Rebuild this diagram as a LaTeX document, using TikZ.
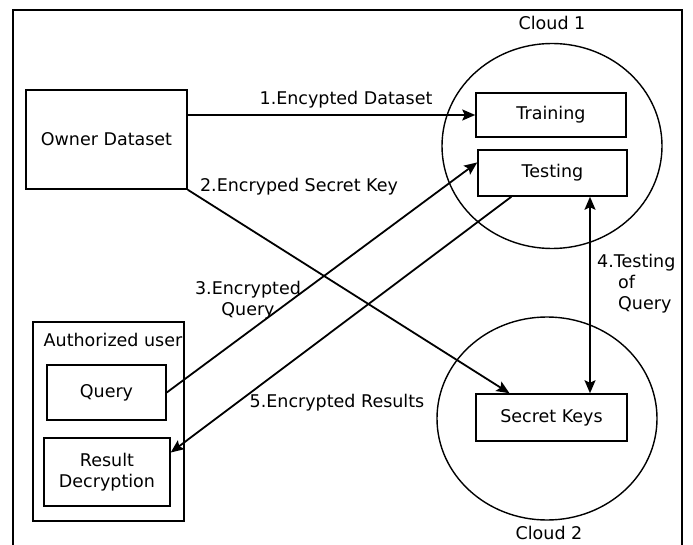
\documentclass[tikz,border=0pt]{standalone}
\usepackage{fontspec}
\setmainfont{DejaVu Sans}
\usetikzlibrary{arrows.meta,shapes.geometric,calc}

\tikzset{
  box/.style={draw, line width=1.5pt, rectangle, inner sep=0pt, align=center},
  cloudshape/.style={draw, line width=1.4pt, ellipse, inner sep=0pt},
  flow/.style={line width=1.8pt, -{Stealth[length=13pt,width=11pt,inset=2.5pt]}},
  bothflow/.style={line width=1.8pt, {Stealth[length=13pt,width=11pt,inset=2.5pt]}-{Stealth[length=13pt,width=11pt,inset=2.5pt]}},
  lbl/.style={inner sep=0pt, align=center},
}

\begin{document}
\begin{tikzpicture}[x=1pt, y=-1pt, font=\fontsize{17.5}{21}\selectfont]
  \useasboundingbox (0,0) rectangle (693,545);

  % outer frame (open at the bottom)
  \draw[line width=2pt] (13,545) -- (13,10) -- (682,10) -- (682,545);

  % clouds
  \node[cloudshape, minimum width=220pt, minimum height=205pt] (cloud1) at (552,146) {};
  \node[cloudshape, minimum width=220pt, minimum height=203pt] (cloud2) at (547,418.5) {};
  \node[lbl] (c1lbl) at (552,23) {Cloud 1};
  \node[lbl] (c2lbl) at (549,533) {Cloud 2};

  % boxes
  \node[box, minimum width=161pt, minimum height=99pt] (owner) at (106.5,139.5) {Owner Dataset};
  \node[box, minimum width=150pt, minimum height=44pt] (training) at (551,115) {Training};
  \node[box, minimum width=149pt, minimum height=46pt] (testing) at (552.5,173) {Testing};
  \node[box, minimum width=151pt, minimum height=47pt] (secret) at (551.5,417.5) {Secret Keys};

  \node[box, minimum width=151pt, minimum height=199pt] (auth) at (108.5,421.5) {};
  \node[lbl] (authlbl) at (113,340) {Authorized user};
  \node[box, minimum width=119pt, minimum height=55pt] (query) at (106.5,392.5) {Query};
  \node[box, minimum width=126pt, minimum height=68pt] (result) at (107,472) {Result\\Decryption};

  % connectors
  \draw[flow] (owner.east |- training.west) -- (training.west);
  \draw[flow] (owner.south east) -- (secret.150);
  \draw[flow] (query.east) -- (testing.172);
  \draw[flow] (testing.210) -- (result.17);
  \coordinate (qx) at (590,0);
  \draw[bothflow] (testing.south -| qx) -- (secret.north -| qx);

  % connector labels
  \node[lbl] (l1) at (346,100) {1.Encypted Dataset};
  \node[lbl] (l2) at (299,187) {2.Encryped Secret Key};
  \node[lbl] (l3) at (248,300) {3.Encrypted\\Query};
  \node[lbl, align=left, anchor=north west] (l4) at (597,254) {4.Testing\\\hspace*{21pt}of\\\hspace*{21pt}Query};
  \node[lbl] (l5) at (337,403) {5.Encrypted Results};
\end{tikzpicture}
\end{document}
